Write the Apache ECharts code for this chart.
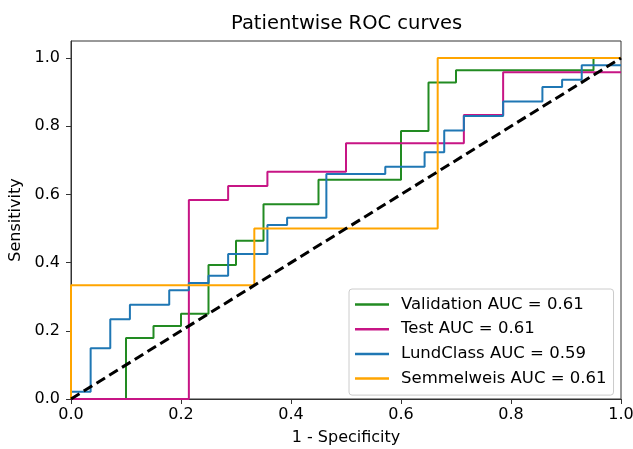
<!DOCTYPE html>
<html>
<head>
<meta charset="utf-8">
<script src="https://cdn.jsdelivr.net/npm/echarts@6/dist/echarts.min.js"></script>
<style>
  html, body { margin: 0; padding: 0; background: #fff; }
  #chart { width: 633px; height: 449px; }
</style>
</head>
<body>
<div id="chart"></div>
<script>
// ROC curve vertices (fpr / tpr)
const valFpr = [0, 0.1, 0.1, 0.15, 0.15, 0.2, 0.2, 0.25, 0.25, 0.3, 0.3, 0.35, 0.35, 0.45, 0.45, 0.6, 0.6, 0.65, 0.65, 0.7, 0.7, 0.95, 0.95, 1]
const valTpr = [0, 0, 0.1786, 0.1786, 0.2143, 0.2143, 0.25, 0.25, 0.3929, 0.3929, 0.4643, 0.4643, 0.5714, 0.5714, 0.6429, 0.6429, 0.7857, 0.7857, 0.9286, 0.9286, 0.9643, 0.9643, 1, 1]

const testFpr = [0, 0.2143, 0.2143, 0.2857, 0.2857, 0.3571, 0.3571, 0.5, 0.5, 0.7143, 0.7143, 0.7857, 0.7857, 1]
const testTpr = [0, 0, 0.5833, 0.5833, 0.625, 0.625, 0.6667, 0.6667, 0.75, 0.75, 0.8333, 0.8333, 0.9583, 0.9583]

const lundFpr = [0, 0, 0.0357, 0.0357, 0.0714, 0.0714, 0.1071, 0.1071, 0.1786, 0.1786, 0.2143, 0.2143, 0.25, 0.25, 0.2857, 0.2857,
  0.3571, 0.3571, 0.3929, 0.3929, 0.4643, 0.4643, 0.5714, 0.5714, 0.6429, 0.6429, 0.6786, 0.6786, 0.7143, 0.7143,
  0.7857, 0.7857, 0.8571, 0.8571, 0.8929, 0.8929, 0.9286, 0.9286, 1]
const lundTpr = [0, 0.0213, 0.0213, 0.1489, 0.1489, 0.234, 0.234, 0.2766, 0.2766, 0.3191, 0.3191, 0.3404, 0.3404, 0.3617, 0.3617, 0.4255,
  0.4255, 0.5106, 0.5106, 0.5319, 0.5319, 0.6596, 0.6596, 0.6809, 0.6809, 0.7234, 0.7234, 0.7872, 0.7872, 0.8298,
  0.8298, 0.8723, 0.8723, 0.9149, 0.9149, 0.9362, 0.9362, 0.9787, 0.9787]

const semFpr = [0, 0, 0.3333, 0.3333, 0.6667, 0.6667, 1]
const semTpr = [0, 0.3333, 0.3333, 0.5, 0.5, 1, 1]

const names = ['Validation AUC = 0.61', 'Test AUC = 0.61', 'LundClass AUC = 0.59', 'Semmelweis AUC = 0.61']
const colors = ['#228b22', '#c71585', '#1f77b4', '#ffa500']
const tickValues = [0, 0.2, 0.4, 0.6, 0.8, 1.0]

const pairs = (xs, ys) => xs.map((x, i) => [x, ys[i]])
const curves = [pairs(valFpr, valTpr), pairs(testFpr, testTpr), pairs(lundFpr, lundTpr), pairs(semFpr, semTpr)]

const font = 'DejaVu Sans'
const chart = echarts.init(document.getElementById('chart'), null, { renderer: 'canvas' })

const axisCommon = {
  type: 'value',
  nameLocation: 'middle',
  nameTextStyle: { fontFamily: font, fontSize: 16, color: '#000' },
  axisLine: { show: true, onZero: false, lineStyle: { color: '#333', width: 1 } },
  axisTick: { show: true, inside: false, length: 5, lineStyle: { color: '#333' }, customValues: tickValues },
  axisLabel: {
    fontFamily: font, fontSize: 16, color: '#000', customValues: tickValues,
    formatter: v => v.toFixed(1)
  },
  splitLine: { show: false }
}

const series = curves.map((data, i) => ({
  name: names[i],
  type: 'line',
  data: data,
  symbol: 'none',
  lineStyle: { color: colors[i], width: 2 },
  itemStyle: { color: colors[i] }
}))

// chance diagonal
series.push({
  name: 'chance',
  type: 'line',
  data: [[0, 0], [1, 1]],
  symbol: 'none',
  lineStyle: { color: '#000', width: 3, type: [10, 5] },
  z: 5
})

chart.setOption({
  animation: false,
  backgroundColor: '#fff',
  title: {
    text: 'Patientwise ROC curves',
    left: 226,
    top: 9,
    textStyle: { fontFamily: font, fontSize: 19.5, fontWeight: 'normal', color: '#000' }
  },
  grid: {
    left: 71, right: 12, top: 41, bottom: 50,
    outerBoundsMode: 'none',
    containLabel: false,
    show: true, borderColor: '#333', borderWidth: 1, backgroundColor: 'transparent'
  },
  legend: {
    data: names,
    orient: 'vertical',
    left: 349,
    top: 289,
    icon: 'rect',
    itemWidth: 34,
    itemHeight: 2.5,
    itemGap: 7.7,
    padding: [7, 7, 8, 6],
    backgroundColor: '#fff',
    borderColor: '#cccccc',
    borderWidth: 1,
    borderRadius: 3,
    textStyle: { fontFamily: font, fontSize: 16.5, color: '#000', lineHeight: 16, padding: [0, 0, 0, 7] }
  },
  xAxis: Object.assign({}, axisCommon, {
    name: '1 - Specificity',
    nameGap: 31,
    min: 0, max: 1, interval: 0.2,
    axisLabel: Object.assign({}, axisCommon.axisLabel, { margin: 8 })
  }),
  yAxis: Object.assign({}, axisCommon, {
    name: 'Sensitivity',
    nameGap: 37,
    min: 0, max: 1.05,
    axisLabel: Object.assign({}, axisCommon.axisLabel, { margin: 11 })
  }),
  series: series
})
</script>
</body>
</html>
